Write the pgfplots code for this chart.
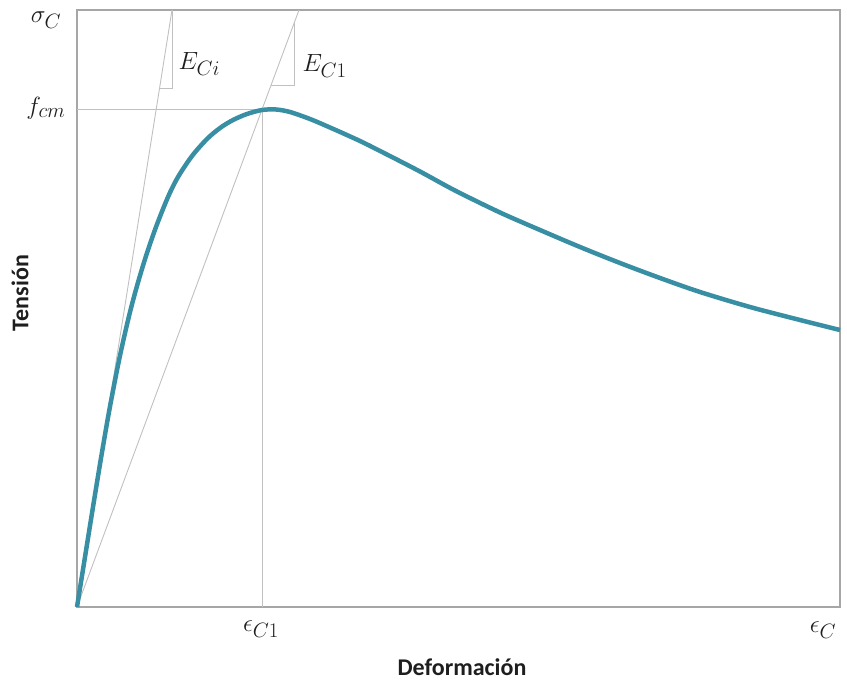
\documentclass[border=0pt]{standalone}
\usepackage{pgfplots}
\pgfplotsset{compat=1.18}
\usepackage{fontspec}
\setsansfont{Carlito}
\definecolor{curveteal}{RGB}{56,143,164}
\definecolor{guide}{RGB}{192,192,192}
\definecolor{frame}{RGB}{166,166,166}
\definecolor{lbl}{RGB}{30,30,30}

\begin{document}
\begin{tikzpicture}
\begin{axis}[
  scale only axis,
  width=763pt, height=597pt,
  xmin=0, xmax=763, ymin=0, ymax=597,
  xtick=\empty, ytick=\empty,
  axis line style={draw=frame, line width=1.6pt},
  clip=false,
]
% secant and tangent moduli
\addplot[guide, line width=0.9pt] coordinates {(0,0) (95,597)};
\addplot[guide, line width=0.9pt] coordinates {(0,0) (222,597)};
% slope markers
\addplot[guide, line width=0.9pt] coordinates {(95,597) (95,519) (82.6,519)};
\addplot[guide, line width=0.9pt] coordinates {(217,584) (217,522) (194,522)};
% peak reference lines
\addplot[guide, line width=0.9pt] coordinates {(0,498) (185,498)};
\addplot[guide, line width=0.9pt] coordinates {(185,0) (185,498)};
% stress-strain curve
\addplot[curveteal, line width=4.5pt, smooth, tension=0.5] coordinates {
 (0,0) (8,50) (16,100) (24.2,150) (32.9,200) (42.7,250) (51.8,290)
 (59.7,320) (68.7,350) (79,380) (91,410) (101,430) (115,451) (130,468)
 (143,479) (156,487) (170,493) (185,497) (199,497.5) (213,495) (233,488)
 (253,479.5) (283,466) (308,453.5) (343,435.5) (378,416.5) (423,394.5) (463,377)
 (503,360) (543,344) (583,329) (623,315) (673,300) (723,287) (763,277)
};
% labels
\begin{scope}[every node/.style={text=lbl, font=\fontsize{29}{34}\selectfont}]
\node at (axis cs:-31,587) {$\sigma_{C}$};
\node at (axis cs:-31,499) {$f_{cm}$};
\node at (axis cs:184,-22) {$\epsilon_{C1}$};
\node at (axis cs:746,-23) {$\epsilon_{C}$};
\node[anchor=west] at (axis cs:98,543) {$E_{Ci}$};
\node[anchor=west] at (axis cs:222,541) {$E_{C1}$};
\end{scope}
\node[text=lbl, font=\sffamily\bfseries\fontsize{24}{28}\selectfont] at (axis cs:385,-60) {Deformación};
\node[text=lbl, font=\sffamily\bfseries\fontsize{24}{28}\selectfont, rotate=90] at (axis cs:-57,314) {Tensión};
\path (axis cs:-77,-74) rectangle (axis cs:770,607);
\end{axis}
\end{tikzpicture}
\end{document}
